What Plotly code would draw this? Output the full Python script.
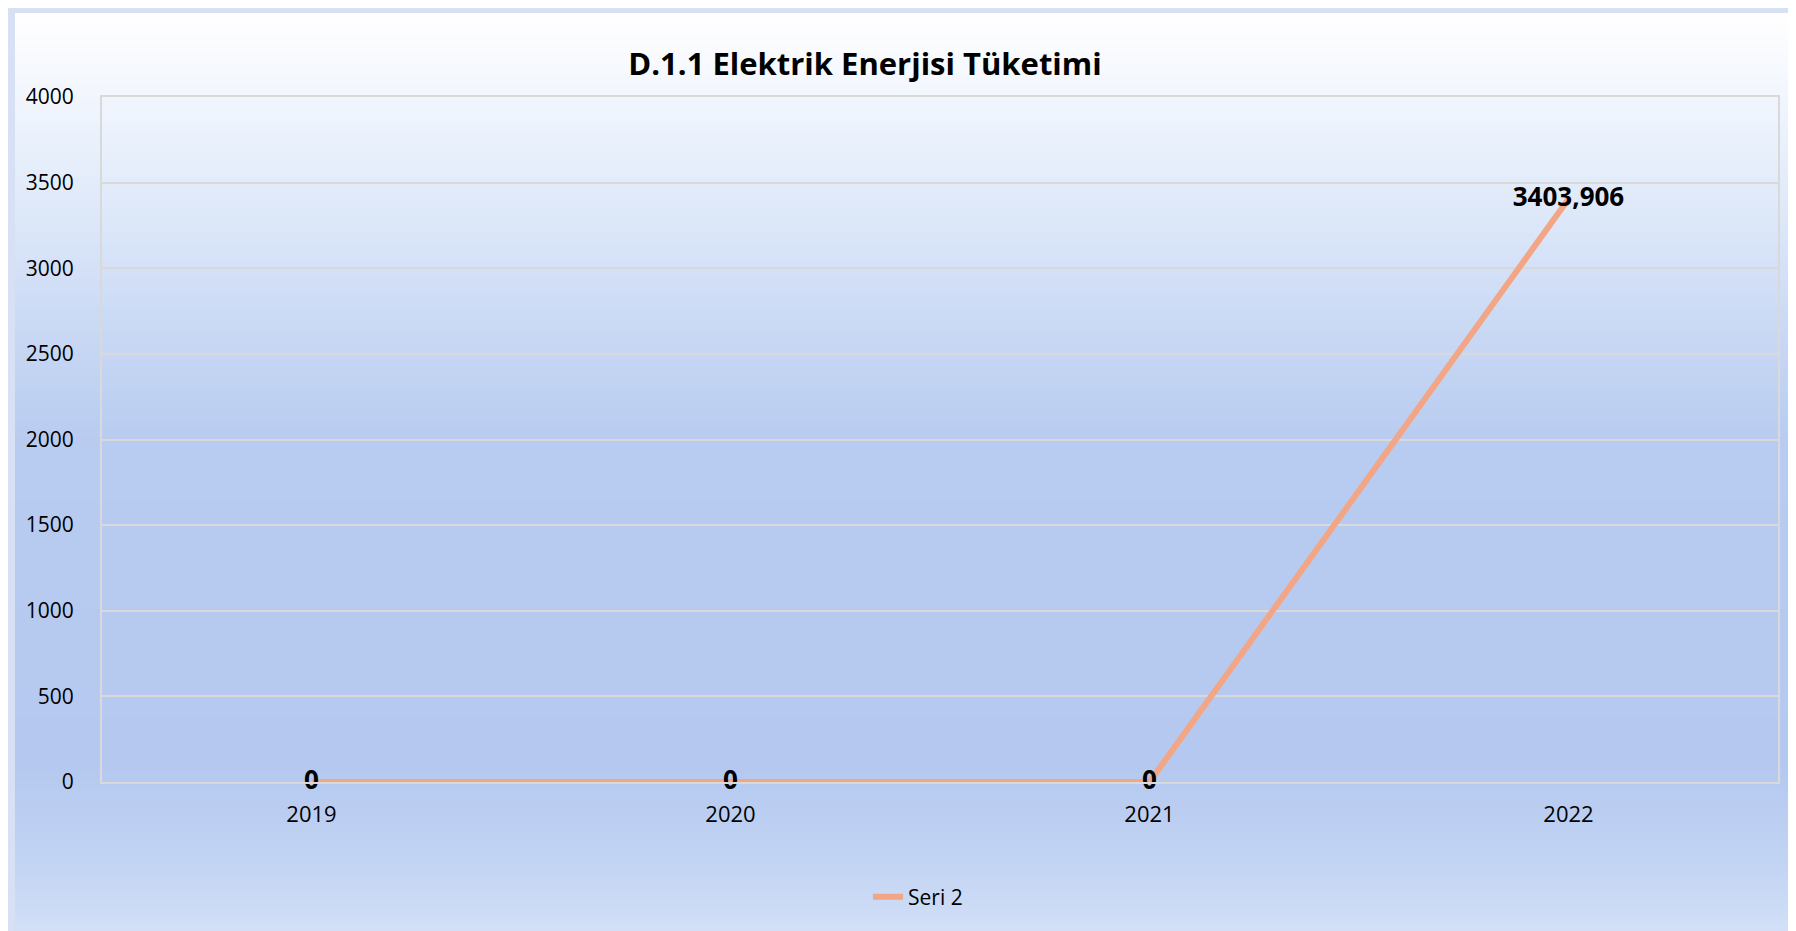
import plotly.graph_objects as go

# ---- data ----
years = ["2019", "2020", "2021", "2022"]
seri2 = [0, 0, 0, 3403.906]
y_ticks = [0, 500, 1000, 1500, 2000, 2500, 3000, 3500, 4000]
title_text = "D.1.1 Elektrik Enerjisi Tüketimi"
series_name = "Seri 2"


def fmt(v):
    s = f"{v:.3f}".rstrip("0").rstrip(".")
    return s.replace(".", ",")


labels = [f"<b>{fmt(v)}</b>" for v in seri2]

W, H = 1796, 931
L, R, T, B = 94, 26, 89, 157
pw, ph = W - L - R, H - T - B

FONT = "Open Sans"

fig = go.Figure()
fig.add_trace(go.Scatter(
    x=years, y=seri2, mode="lines+text", name=series_name,
    line=dict(color="#F3A686", width=6),
    text=labels, textposition="middle center",
    textfont=dict(family=FONT, size=26, color="#000000"),
    cliponaxis=False,
))


def px_to_paper_x(px):
    return (px - L) / pw


def py_to_paper_y(py):
    return (H - B - py) / ph


stops = [
    (0.00, (255, 255, 255)),
    (0.10, (240, 245, 253)),
    (0.20, (224, 234, 250)),
    (0.35, (200, 216, 244)),
    (0.47, (184, 203, 240)),
    (0.82, (181, 201, 240)),
    (0.92, (194, 212, 243)),
    (1.00, (211, 224, 247)),
]


def color_at(f):
    for (a, ca), (b, cb) in zip(stops[:-1], stops[1:]):
        if a <= f <= b:
            t = (f - a) / (b - a) if b > a else 0
            c = [round(ca[i] + (cb[i] - ca[i]) * t) for i in range(3)]
            return f"rgb({c[0]},{c[1]},{c[2]})"
    c = stops[-1][1]
    return f"rgb({c[0]},{c[1]},{c[2]})"


shapes = []
x0i, x1i, y0i, y1i = 7, 1790, 5, 928
step = 4
y = y0i
while y < y1i:
    y2 = min(y + step, y1i)
    f = ((y + y2) / 2 - y0i) / (y1i - y0i)
    shapes.append(dict(
        type="rect", xref="paper", yref="paper", layer="below",
        x0=px_to_paper_x(x0i), x1=px_to_paper_x(x1i),
        y0=py_to_paper_y(y2 + 0.5), y1=py_to_paper_y(y),
        fillcolor=color_at(f), line=dict(width=0),
    ))
    y = y2

fig.update_layout(
    width=W, height=H,
    margin=dict(l=L, r=R, t=T, b=B, pad=0),
    paper_bgcolor="#D7E1F3",
    plot_bgcolor="rgba(0,0,0,0)",
    shapes=shapes,
    title=dict(text=f"<b>{title_text}</b>", x=857 / W, xanchor="center",
               y=1 - 56 / H, yanchor="middle", xref="container", yref="container",
               font=dict(family=FONT, size=31, color="#000000")),
    font=dict(family=FONT, color="#000000"),
    showlegend=True,
    legend=dict(x=px_to_paper_x(910), xanchor="center",
                y=py_to_paper_y(889), yanchor="middle",
                orientation="h", bgcolor="rgba(0,0,0,0)",
                font=dict(family=FONT, size=21, color="#000000")),
)

fig.update_xaxes(
    type="category", range=[-0.5, 3.5],
    showgrid=False, showline=True, linecolor="#D9D9D9", linewidth=2, mirror=True,
    ticks="", tickfont=dict(family=FONT, size=22, color="#000000"),
    ticklabelstandoff=12, zeroline=False,
)
fig.update_yaxes(
    range=[0, 4000], tickvals=y_ticks,
    showgrid=True, gridcolor="#D9D9D9", gridwidth=1.5,
    showline=True, linecolor="#D9D9D9", linewidth=2, mirror=True,
    ticks="", tickfont=dict(family=FONT, size=21, color="#000000"),
    ticklabelstandoff=22, zeroline=False,
)

fig.write_html("out.html")
